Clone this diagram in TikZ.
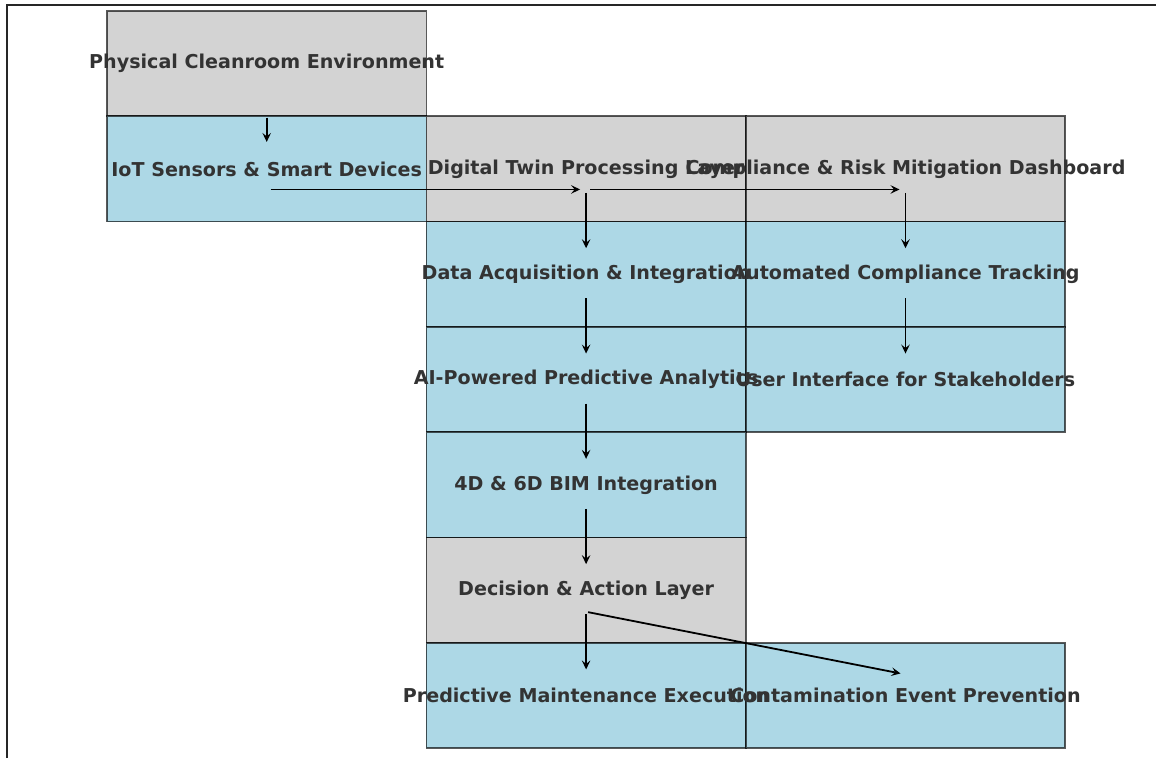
\documentclass[tikz,border=0pt]{standalone}
\usepackage{fontspec}
\setmainfont{DejaVu Sans}
\usetikzlibrary{arrows.meta}
\definecolor{boxgray}{HTML}{D3D3D3}
\definecolor{boxblue}{HTML}{ADD8E6}
\definecolor{labelgray}{HTML}{333333}

\begin{document}
\begin{tikzpicture}[x=1pt, y=-1pt,
    box/.style={draw=black, draw opacity=0.65, line width=1.7pt, minimum width=319.4pt,
        minimum height=105.3pt, inner sep=0pt, outer sep=0pt},
    lbl/.style={text=labelgray, font=\bfseries\fontsize{19.1}{21}\selectfont},
    flow/.style={-{Stealth[length=9pt,width=8.5pt,inset=3.5pt]}, line width=1.8pt}]
    \useasboundingbox (0,0) rectangle (1156,758);
    \draw[line width=1.4pt, black!85] (7,758) -- (7,5) -- (1156,5);
    % layer boxes: name / column / row / fill
    \foreach \name/\c/\r/\col in {phys/0/0/boxgray, iot/0/1/boxblue, twin/1/1/boxgray,
        dash/2/1/boxgray, acq/1/2/boxblue, track/2/2/boxblue, ai/1/3/boxblue,
        ui/2/3/boxblue, bim/1/4/boxblue, dec/1/5/boxgray, maint/1/6/boxblue, prev/2/6/boxblue}
        \node[box, fill=\col] (\name) at ({266.7+319.4*\c}, {63.65+105.3*\r}) {};
    % data flow
    \draw[flow] ([yshift=-54pt]phys.center) -- ([yshift=27pt]iot.center);
    \draw[flow] ([shift={(4pt,-20.5pt)}]iot.center) -- ([shift={(-6pt,-20.5pt)}]twin.center);
    \draw[flow] ([shift={(4pt,-20.5pt)}]twin.center) -- ([shift={(-6pt,-20.5pt)}]dash.center);
    \foreach \a/\b in {twin/acq, acq/ai, ai/bim, bim/dec, dec/maint, dash/track, track/ui}
        \draw[flow] ([yshift=-24pt]\a.center) -- ([yshift=26pt]\b.center);
    \draw[flow] ([shift={(2pt,-22pt)}]dec.center) -- ([shift={(-5pt,22pt)}]prev.center);
    % labels on top
    \foreach \name/\txt in {phys/Physical Cleanroom Environment, iot/IoT Sensors \& Smart Devices,
        twin/Digital Twin Processing Layer, dash/Compliance \& Risk Mitigation Dashboard,
        acq/Data Acquisition \& Integration, track/Automated Compliance Tracking,
        ai/AI-Powered Predictive Analytics, ui/User Interface for Stakeholders,
        bim/4D \& 6D BIM Integration, dec/Decision \& Action Layer,
        maint/Predictive Maintenance Execution, prev/Contamination Event Prevention}
        \node[lbl] at (\name) {\txt};
\end{tikzpicture}
\end{document}
